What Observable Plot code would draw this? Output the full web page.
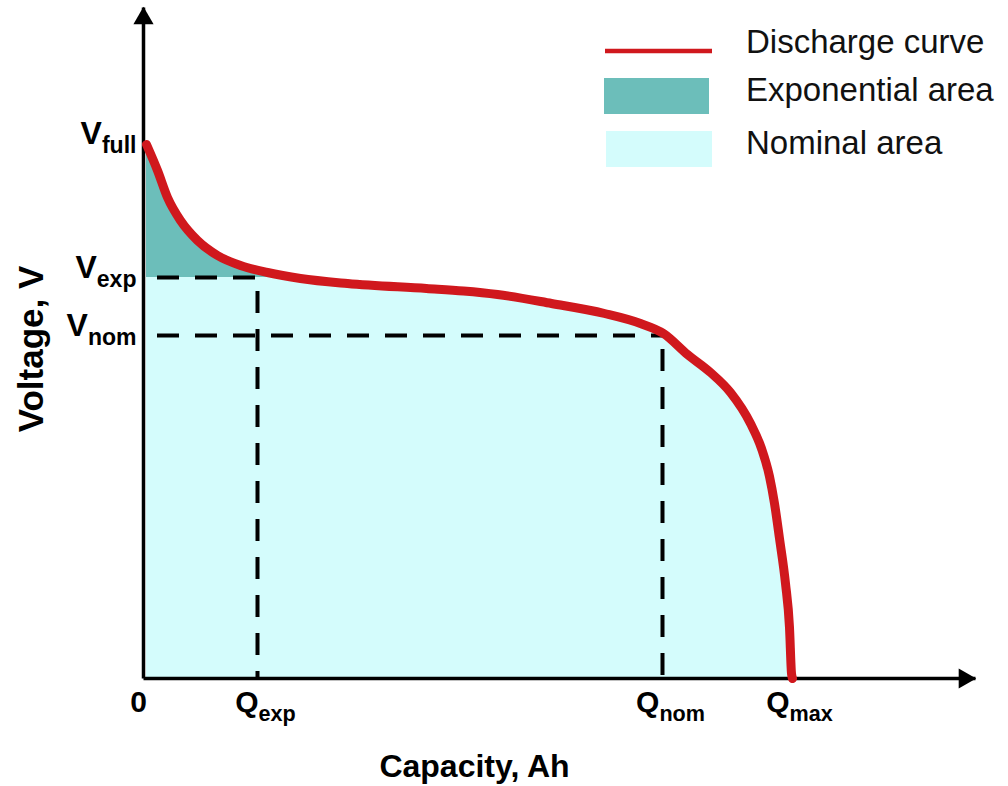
<!DOCTYPE html>
<html>
<head>
<meta charset="utf-8">
<script src="https://cdn.jsdelivr.net/npm/d3@7"></script>
<script src="https://cdn.jsdelivr.net/npm/@observablehq/plot@0.6"></script>
<style>
  body { margin: 0; background: #fff; }
  #wrap { position: relative; width: 1008px; height: 786px; }
  #legend { position: absolute; left: 0; top: 0; }
</style>
</head>
<body>
<div id="wrap"></div>
<script>
// ---- data (arbitrary units) ----
const capacity = [0.03, 0.14, 0.24, 0.37, 0.54, 0.74, 0.97, 1.24, 1.57, 2.04, 2.83, 3.20, 3.54, 4.08, 4.61, 4.97, 5.20, 5.44, 5.67, 5.87, 6.07, 6.18, 6.26, 6.31, 6.36, 6.42, 6.46, 6.48, 6.49];
const voltage  = [5.34, 5.08, 4.81, 4.58, 4.38, 4.23, 4.13, 4.06, 4.00, 3.95, 3.90, 3.875, 3.84, 3.75, 3.65, 3.55, 3.45, 3.24, 3.06, 2.86, 2.55, 2.30, 2.02, 1.75, 1.40, 0.95, 0.51, 0.05, 0.00];

const levelNames  = ["V_full", "V_exp", "V_nom"];
const levelValues = [5.35, 4.01, 3.43];
const qNames  = ["Q_exp", "Q_nom", "Q_max"];
const qValues = [1.14, 5.19, 6.48];
const zeroLabel = "0";
const xMax = 8.32;
const yMax = 6.71;

const xTitle = "Capacity, Ah";
const yTitle = "Voltage, V";
const legendLabels = ["Discharge curve", "Exponential area", "Nominal area"];

const red = "#d0181d";
const teal = "#6cbeba";
const cyan = "#d4fcfc";
const font = "'Liberation Sans', Arial, Helvetica, sans-serif";

// ---- derived tables ----
const pts = capacity.map((c, i) => ({c, v: voltage[i]}));
const vExp = levelValues[1], vNom = levelValues[2];
const qExp = qValues[0], qNom = qValues[1];
const k = pts.findIndex(d => d.v < vExp);
const expPts = pts.slice(0, k + 1);
const levels = levelNames.map((n, i) => ({name: n, v: levelValues[i]}));
const qTicks = qNames.map((n, i) => ({name: n, q: qValues[i]}));
const axesData = [
  {x1: 0, y1: 0, x2: 0, y2: yMax},
  {x1: 0, y1: 0, x2: xMax, y2: 0}
];
const dash = {stroke: "black", strokeWidth: 4, strokeDasharray: "22,16", strokeDashoffset: -14};

const chart = Plot.plot({
  width: 1008,
  height: 786,
  marginLeft: 143,
  marginRight: 33,
  marginTop: 7,
  marginBottom: 108,
  x: {domain: [0, xMax], axis: null},
  y: {domain: [0, yMax], axis: null},
  style: {fontFamily: font, background: "white"},
  marks: [
    Plot.areaY(pts, {x: "c", y1: () => 0, y2: "v", fill: cyan, curve: "monotone-x"}),
    Plot.areaY(expPts, {x: "c", y1: () => vExp, y2: d => Math.max(d.v, vExp), fill: teal, curve: "monotone-x"}),
    Plot.ruleY([{y: vExp, x2: qExp}], {y: "y", x1: () => 0, x2: "x2", ...dash}),
    Plot.ruleY([{y: vNom, x2: qNom}], {y: "y", x1: () => 0, x2: "x2", ...dash}),
    Plot.ruleX([{x: qExp, y2: vExp}], {x: "x", y1: "y2", y2: () => 0, ...dash}),
    Plot.ruleX([{x: qNom, y2: vNom}], {x: "x", y1: "y2", y2: () => 0, ...dash}),
    // axis lines
    Plot.link(axesData, {x1: "x1", y1: "y1", x2: "x2", y2: "y2", stroke: "black", strokeWidth: 3.5}),
    // filled arrowheads
    Plot.dot([axesData[0]], {x: "x2", y: "y2", symbol: "triangle", r: 7.5, fill: "black", stroke: "none", dy: 11}),
    Plot.dot([axesData[1]], {x: "x2", y: "y2", symbol: "triangle", r: 7.5, fill: "black", stroke: "none", rotate: 90, dx: -11}),
    Plot.lineY(pts, {x: "c", y: "v", stroke: red, strokeWidth: 9, curve: "monotone-x", strokeLinecap: "round", strokeLinejoin: "round"}),
    Plot.text(levels, {x: () => 0, y: "v", text: "name", textAnchor: "end", dx: -7, dy: -10, fontSize: 32, fontWeight: "bold", fill: "black", fontFamily: font}),
    Plot.text([zeroLabel], {x: () => 0, y: () => 0, text: d => d, textAnchor: "middle", lineAnchor: "top", dx: -5, dy: 12, fontSize: 30, fontWeight: "bold", fill: "black", fontFamily: font}),
    Plot.text(qTicks, {x: "q", y: () => 0, text: "name", textAnchor: "middle", lineAnchor: "top", dx: 8, dy: 12, fontSize: 30, fontWeight: "bold", fill: "black", fontFamily: font}),
    Plot.text([xTitle], {frameAnchor: "bottom", text: d => d, textAnchor: "middle", lineAnchor: "top", dx: -85, dy: 76, fontSize: 32, fontWeight: "bold", fill: "black", fontFamily: font}),
    Plot.text([yTitle], {frameAnchor: "left", text: d => d, rotate: -90, textAnchor: "middle", dx: -112, dy: 6, fontSize: 35, fontWeight: "bold", fill: "black", fontFamily: font})
  ]
});

// subscripts: "V_full" -> V + subscript "full"
d3.select(chart).selectAll("text").each(function() {
  const t = this.textContent;
  if (t.includes("_")) {
    const [main, sub] = t.split("_");
    const sel = d3.select(this);
    sel.text(null);
    sel.append("tspan").text(main);
    sel.append("tspan").attr("dy", 9).attr("font-size", "0.72em").text(sub);
  }
});

const wrap = document.getElementById("wrap");
wrap.appendChild(chart);

// legend overlay
const lg = d3.select(wrap).append("svg").attr("id", "legend")
  .attr("width", 1008).attr("height", 200)
  .style("font-family", font);
lg.append("line").attr("x1", 605).attr("x2", 712).attr("y1", 51).attr("y2", 51)
  .attr("stroke", red).attr("stroke-width", 4.5);
lg.append("rect").attr("x", 604).attr("y", 78).attr("width", 105).attr("height", 36).attr("fill", teal);
lg.append("rect").attr("x", 606).attr("y", 131).attr("width", 106).attr("height", 36).attr("fill", cyan);
const baselines = [53, 101, 154];
legendLabels.forEach((l, i) => {
  lg.append("text").attr("x", 746).attr("y", baselines[i]).attr("font-size", 33).attr("fill", "#111").text(l);
});
</script>
</body>
</html>
